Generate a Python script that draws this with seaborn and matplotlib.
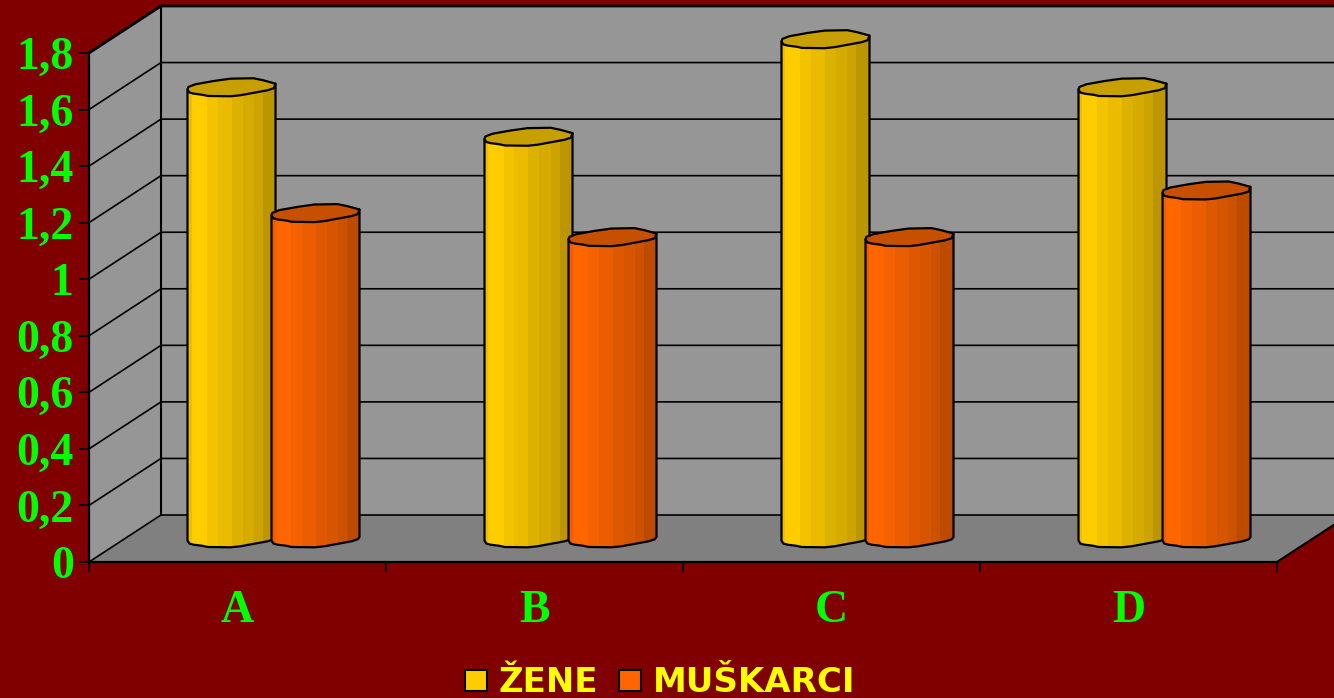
import matplotlib
matplotlib.use('Agg')
import matplotlib.pyplot as plt
import numpy as np
import pandas as pd
import seaborn as sns
from matplotlib.patches import Polygon
from matplotlib.transforms import Affine2D

# Values
categories = ['A', 'B', 'C', 'D']
zene = [1.595, 1.42, 1.765, 1.595]
muskarci = [1.15, 1.065, 1.065, 1.23]
series_names = ['ŽENE', 'MUŠKARCI']
y_ticks = [0, 0.2, 0.4, 0.6, 0.8, 1, 1.2, 1.4, 1.6, 1.8]
y_tick_labels = ['0', '0,2', '0,4', '0,6', '0,8', '1', '1,2', '1,4', '1,6', '1,8']

BG = '#800000'
WALL = '#969696'
FLOOR = '#808080'
GREEN = '#00FF00'
YELLOW = '#FFFF00'
COLORS = ['#FFCC00', '#FF6600']

# Cylinder look: shading bands across the bar and the outline of its ends (pixels around the centre level)
band_edges = [0, 0.04, 0.22, 0.34, 0.50, 0.62, 0.75, 0.85, 1]
band_shade = [0.93, 1, 0.96, 0.92, 0.87, 0.84, 0.80, 0.74]
cap_upper = [(0, -1.5), (0.01, 1), (0.09, 3.7), (0.30, 7), (0.49, 9.3), (0.75, 9.7), (0.86, 7.7), (1, 4.3)]
cap_lower = [(1, 2), (0.98, -0.3), (0.91, -2.3), (0.60, -7.3), (0.49, -8.3), (0.23, -8), (0.17, -6.8),
             (0.07, -5.7), (0.02, -4.5), (0, -1.5)]

sns.set_theme(style='white')
plt.rcParams['font.family'] = ['Liberation Serif', 'DejaVu Serif']

df = pd.DataFrame({
    'kategorija': categories * 2,
    'pol': [series_names[0]] * 4 + [series_names[1]] * 4,
    'vrednost': zene + muskarci,
})

fig = plt.figure(figsize=(13.34, 6.98), dpi=100, facecolor=BG)
ax = fig.add_axes([89 / 1334, (698 - 562) / 698, 1188 / 1334, 509 / 698])
ax.set_facecolor('none')

sns.barplot(data=df, x='kategorija', y='vrednost', hue='pol', hue_order=series_names, palette=COLORS,
            saturation=1, width=2 * 84 / 297, gap=0, errorbar=None, ax=ax)
ax.set_xlim(-0.5, 3.5)
ax.set_ylim(0, 1.8)
ax.set_xlabel('')
ax.set_ylabel('')

# px -> data units
px_x = 4 / 1188
px_y = 1.8 / 509
depth_x = 72 * px_x
depth_y = 47 * px_y

# walls and floor of the fake 3D box
x0, x1 = -0.5, 3.5
ax.fill([x0 + depth_x, x1 + depth_x, x1 + depth_x, x0 + depth_x],
        [depth_y, depth_y, 1.8 + depth_y, 1.8 + depth_y], color=WALL, lw=0, clip_on=False, zorder=1)
ax.fill([x0, x0 + depth_x, x0 + depth_x, x0], [0, depth_y, 1.8 + depth_y, 1.8], color=WALL, lw=0,
        clip_on=False, zorder=1)
ax.fill([x0, x1, x1 + depth_x, x0 + depth_x], [0, 0, depth_y, depth_y], color=FLOOR, lw=0, clip_on=False, zorder=1)

for y in y_ticks:
    lw = 2 if y == 1.8 else 1.2
    ax.plot([x0, x0 + depth_x, x1 + depth_x], [y, y + depth_y, y + depth_y], color='black', lw=lw,
            clip_on=False, zorder=2, solid_joinstyle='miter')
ax.plot([x0 + depth_x, x0 + depth_x], [depth_y, 1.8 + depth_y], color='black', lw=1.5, clip_on=False, zorder=2)
ax.plot([x1, x1 + depth_x], [0, depth_y], color='black', lw=1.5, clip_on=False, zorder=2)

# turn each bar into a shaded cylinder standing on the floor
shift = ax.transData + Affine2D().translate(36, 23)
for i, (container, color) in enumerate(zip(ax.containers, COLORS)):
    base = np.array(matplotlib.colors.to_rgb(color))
    z = 3 + i
    for patch in container:
        left = patch.get_x() - 2 * px_x
        width = patch.get_width() + 4 * px_x
        top = patch.get_height()

        def pts(profile, level):
            return [(left + t * width, level + d * px_y) for t, d in profile]

        body = Polygon([(left + width, top + 4.3 * px_y)] + pts(cap_lower, 0) + [(left, top - 1.5 * px_y)],
                       closed=True, fc='none', ec='black', lw=1.6, transform=shift, clip_on=False, zorder=z + 0.2,
                       joinstyle='round')
        ax.add_patch(body)

        # the seaborn bar stays as the base colour, cut to the cylinder
        patch.set_transform(shift)
        patch.set_zorder(z)
        patch.set_clip_path(body)
        patch.set_clip_box(fig.bbox)

        cols = np.linspace(0, 1, 100, endpoint=False)
        shade = np.array(band_shade)[np.searchsorted(band_edges, cols, side='right') - 1]
        img = ax.imshow((shade[:, None] * base)[None, :, :], extent=(left, left + width, 0 - 12 * px_y, top + 12 * px_y),
                        aspect='auto', interpolation='nearest', zorder=z + 0.1)
        img.set_transform(shift)
        img.set_clip_path(body)
        img.set_clip_box(fig.bbox)

        cap = Polygon(pts(cap_upper, top) + pts(cap_lower, top)[1:-1], closed=True, fc=base * 0.78, ec='black',
                      lw=1.6, transform=shift, clip_on=False, zorder=z + 0.3, joinstyle='round')
        ax.add_patch(cap)

ax.set_xlim(x0, x1)
ax.set_ylim(0, 1.8)

# axes, ticks, labels
sns.despine(ax=ax)
for side in ['left', 'bottom']:
    ax.spines[side].set_color('black')
    ax.spines[side].set_linewidth(1.6)
    ax.spines[side].set_zorder(2.5)

ax.set_yticks(y_ticks)
ax.set_yticklabels(y_tick_labels)
ax.tick_params(axis='y', left=True, length=7, width=1.3, color='black', pad=4, labelsize=33, labelcolor=GREEN)
ax.tick_params(axis='x', bottom=False, pad=14, labelsize=33, labelcolor=GREEN)
ax.set_xticks(np.arange(x0, x1 + 0.1), minor=True)
ax.tick_params(axis='x', which='minor', bottom=True, length=7, width=1.3, color='black')
for lab in ax.get_yticklabels() + ax.get_xticklabels():
    lab.set_fontweight('bold')
for lab in ax.get_yticklabels():
    lab.set_verticalalignment('center_baseline')

# legend under the chart
sns.move_legend(ax, 'center', bbox_to_anchor=(660 / 1334, (698 - 683) / 698), bbox_transform=fig.transFigure,
                ncol=2, frameon=False, title=None, handlelength=0.65, handleheight=0.6, handletextpad=0.35,
                columnspacing=0.6, borderpad=0, prop={'family': 'DejaVu Sans', 'weight': 'bold', 'size': 24.5})
leg = ax.get_legend()
for text in leg.get_texts():
    text.set_color(YELLOW)
for handle in leg.legend_handles:
    handle.set_edgecolor('black')
    handle.set_linewidth(1.5)

fig.savefig('out.png', dpi=100, facecolor=BG)
